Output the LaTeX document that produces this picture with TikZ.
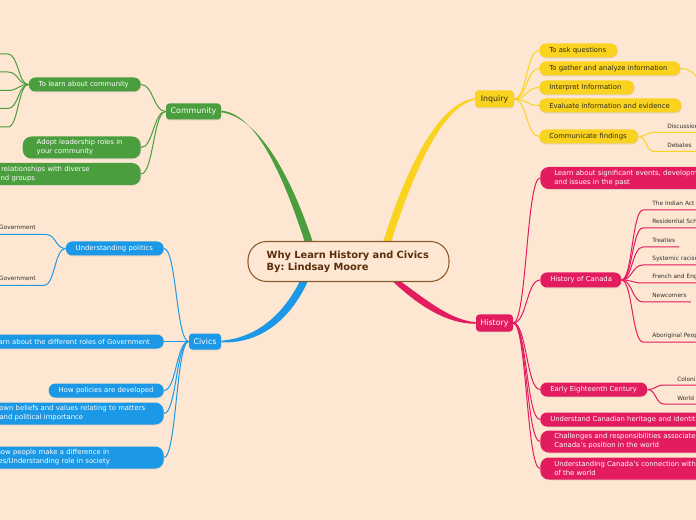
\documentclass[tikz,border=0pt]{standalone}
\usepackage{fontspec}
\setmainfont{DejaVu Sans}
\usetikzlibrary{calc,shadows}
\frenchspacing
\definecolor{bgc}{HTML}{FDE7D2}
\definecolor{cgreen}{HTML}{4A9E3E}
\definecolor{cblue}{HTML}{1B98E6}
\definecolor{cyellow}{HTML}{F9D320}
\definecolor{cpink}{HTML}{E31B5F}
\definecolor{cbrown}{HTML}{8B5A2B}
\definecolor{ctext}{HTML}{5A2E0C}
\definecolor{leaftext}{HTML}{303030}
\definecolor{ydark}{HTML}{2E2A1A}
\pgfdeclarelayer{bglayer}
\pgfdeclarelayer{edgelayer}
\pgfsetlayers{bglayer,edgelayer,main}
\newcommand{\oneln}[1]{\mbox{#1}}
\tikzset{
  shad/.style={drop shadow={shadow xshift=0.3pt,shadow yshift=-0.6pt,opacity=0.22}},
  pillbase/.style={shad,rounded corners=5pt,inner xsep=7.5pt,inner ysep=0pt,minimum height=10.5pt,align=left,font=\fontsize{5.15}{6.75}\selectfont},
  pilltwo/.style={pillbase,rounded corners=6.5pt,inner xsep=10.5pt,minimum height=16.5pt},
  topic/.style={shad,rounded corners=2.5pt,inner sep=0.5pt,font=\fontsize{5.9}{7}\selectfont},
  gfill/.style={fill=cgreen,text=white},
  bfill/.style={fill=cblue,text=white},
  yfill/.style={fill=cyellow,text=ydark},
  pfill/.style={fill=cpink,text=white},
  leaf/.style={inner sep=0pt,font=\fontsize{4.4}{5}\selectfont,text=leaftext,anchor=base west},
  hc/.style={to path={let \p1=(\tikztostart),\p2=(\tikztotarget) in .. controls ({0.5*\x1+0.5*\x2},\y1) and ({0.5*\x1+0.5*\x2},\y2) .. (\tikztotarget)}},
  gl/.style={draw=cgreen,line width=0.75pt},
  bl/.style={draw=cblue,line width=0.75pt},
  yl/.style={draw=cyellow,line width=0.75pt},
  pl/.style={draw=cpink,line width=0.75pt},
}
\begin{document}
\begin{tikzpicture}[x=0.75pt,y=-0.75pt]
\useasboundingbox (0,0) rectangle (696,520);
\begin{pgfonlayer}{bglayer}
\fill[bgc] (0,0) rectangle (696,520);
\end{pgfonlayer}

% central topic
\node[draw=cbrown,line width=0.8pt,fill=bgc,rounded corners=14pt,minimum width=150.75pt,minimum height=30pt,inner xsep=14pt,text width=122.75pt,align=left,font=\bfseries\fontsize{7.4}{9}\selectfont,text=ctext] (root) at (348.5,261.5) {\oneln{Why Learn History and Civics}\\\oneln{By: Lindsay Moore}};

% main topics
\node[topic,gfill,minimum width=41.25pt,minimum height=12pt] (community) at (193.5,111.5) {Community};
\node[topic,yfill,minimum width=29.25pt,minimum height=12.75pt] (inquiry) at (494.5,99) {Inquiry};
\node[topic,bfill,minimum width=24pt,minimum height=12pt] (civics) at (205,341.5) {Civics};
\node[topic,pfill,minimum width=27.75pt,minimum height=12.75pt] (history) at (494.5,323) {History};

% community children
\node[pillbase,gfill,text width=69pt,anchor=east] (cl) at (141,84.5) {\oneln{To learn about community}};
\node[pilltwo,gfill,text width=67.5pt,anchor=east] (ca) at (141,147.5) {\oneln{Adopt leadership roles in}\\\oneln{your community}};
\node[pilltwo,gfill,text width=117pt,anchor=east] (cd) at (141,174) {\oneln{Develop relationships with diverse}\\\oneln{people and groups}};
\coordinate (cc1) at (8,54);  \coordinate (cc1x) at (-30,54);
\coordinate (cc2) at (8,72);  \coordinate (cc2x) at (-30,72);
\coordinate (cc3) at (8,90.5);  \coordinate (cc3x) at (-30,90.5);
\coordinate (cc4) at (8,108.5); \coordinate (cc4x) at (-30,108.5);
\coordinate (cc5) at (8,127); \coordinate (cc5x) at (-30,127);

% civics children
\node[pillbase,bfill,text width=58.5pt,anchor=east] (cp) at (164,248.5) {\oneln{Understanding politics}};
\node[pillbase,bfill,text width=122.25pt,anchor=east] (cr) at (164,341.5) {\oneln{Learn about the different roles of Government}};
\node[pillbase,bfill,text width=71.25pt,anchor=east] (cpo) at (164,390.5) {\oneln{How policies are developed}};
\node[pilltwo,bfill,text width=135.75pt,anchor=east] (cb) at (164,413.5) {\oneln{Develop own beliefs and values relating to matters}\\\oneln{of social and political importance}};
\node[pilltwo,bfill,text width=154.5pt,anchor=east] (cdf) at (164,457.5) {\oneln{Understanding how people make a difference in}\\\oneln{their communities/Understanding role in society}};
\node[leaf,anchor=base east] (pl1) at (36,230) {Levels of Government};
\node[leaf,anchor=base east] (pl2) at (36,281) {Branches of Government};
\coordinate (pl1s) at (46,234.5);
\coordinate (pl2s) at (44,285.5);

% inquiry children
\node[pillbase,yfill,text width=43.5pt,anchor=west] (i1) at (539,50.5) {\oneln{To ask questions}};
\node[pillbase,yfill,text width=90.75pt,anchor=west] (i2) at (539,68.5) {\oneln{To gather and analyze information}};
\node[pillbase,yfill,text width=56.25pt,anchor=west] (i3) at (539,87.5) {\oneln{Interpret Information}};
\node[pillbase,yfill,text width=91.5pt,anchor=west] (i4) at (539,105.5) {\oneln{Evaluate information and evidence}};
\node[pillbase,yfill,text width=59.25pt,anchor=west] (i5) at (539,136.5) {\oneln{Communicate findings}};
\coordinate (gx) at (716,88);
\node[leaf] (dis) at (667,128.5) {Discussions};
\node[leaf] (deb) at (667,147.5) {Debates};
\coordinate (diss) at (654,132.5);
\coordinate (debs) at (654,151.5);

% history children
\node[pilltwo,pfill,text width=150pt,anchor=west] (h1) at (540,178) {\oneln{Learn about significant events, developments}\\\oneln{and issues in the past}};
\node[pillbase,pfill,text width=45.75pt,minimum height=11.25pt,anchor=west] (h2) at (540,280) {\oneln{History of Canada}};
\node[pillbase,pfill,text width=65.25pt,anchor=west] (h3) at (540,389.5) {\oneln{Early Eighteenth Century}};
\node[pillbase,pfill,text width=140pt,anchor=west] (h4) at (540,419.5) {\oneln{Understand Canadian heritage and identity}};
\node[pilltwo,pfill,text width=160pt,anchor=west] (h5) at (540,441.5) {\oneln{Challenges and responsibilities associated with}\\\oneln{Canada's position in the world}};
\node[pilltwo,pfill,text width=160pt,anchor=west] (h6) at (540,468.5) {\oneln{Understanding Canada's connection with the rest}\\\oneln{of the world}};

\node[leaf] (hl1) at (652,205.5) {The Indian Act};
\node[leaf] (hl2) at (652,223.5) {Residential Schools};
\node[leaf] (hl3) at (652,242.5) {Treaties};
\node[leaf] (hl4) at (652,260.5) {Systemic racism};
\node[leaf] (hl5) at (652,278.5) {French and English Relations};
\node[leaf] (hl6) at (652,297.5) {Newcomers};
\node[leaf] (hl7) at (652,337.5) {Aboriginal Peoples};
\coordinate (hl1s) at (643,210);
\coordinate (hl2s) at (643,228);
\coordinate (hl3s) at (643,247);
\coordinate (hl4s) at (643,265);
\coordinate (hl5s) at (643,283);
\coordinate (hl6s) at (643,302);
\coordinate (hl7s) at (643,342);
\node[leaf] (col) at (677,381) {Colonialism};
\node[leaf] (wor) at (677,400) {World Wars};
\coordinate (cols) at (664,385);
\coordinate (wors) at (664,404);

\begin{pgfonlayer}{edgelayer}
% main branches (tapered)
\fill[cgreen] ($(root.north west)+(57,0)$) .. controls (281,169) and (254,113) .. ([yshift=0.6pt]community.east) -- ([yshift=-0.6pt]community.east) .. controls (257,117) and (289,171) .. ($(root.north west)+(65,0)$) -- cycle;
\fill[cyellow] ($(root.north west)+(136,0)$) .. controls (406,169) and (438,103) .. ([yshift=0.6pt]inquiry.west) -- ([yshift=-0.6pt]inquiry.west) .. controls (442,107) and (414,171) .. ($(root.north west)+(144,0)$) -- cycle;
\fill[cblue] ($(root.south west)+(52,0)$) .. controls (281,318) and (254,338) .. ([yshift=0.6pt]civics.east) -- ([yshift=-0.6pt]civics.east) .. controls (258,344) and (289,322) .. ($(root.south west)+(60,0)$) -- cycle;
\fill[cpink] ($(root.south west)+(146,0)$) .. controls (421,308) and (449,324) .. ([yshift=-0.6pt]history.west) -- ([yshift=0.6pt]history.west) .. controls (451,320) and (429,302) .. ($(root.south west)+(154,0)$) -- cycle;

% community
\draw[gl] (community.west) to[hc] (cl.east);
\draw[gl] (community.west) to[hc] (ca.east);
\draw[gl] (community.west) to[hc] (cd.east);
\draw[gl] (cl.west) to[hc] (cc1) -- (cc1x);
\draw[gl] (cl.west) to[hc] (cc2) -- (cc2x);
\draw[gl] (cl.west) to[hc] (cc3) -- (cc3x);
\draw[gl] (cl.west) to[hc] (cc4) -- (cc4x);
\draw[gl] (cl.west) to[hc] (cc5) -- (cc5x);

% civics
\draw[bl] (civics.west) to[hc] (cp.east);
\draw[bl] (civics.west) to[hc] (cr.east);
\draw[bl] (civics.west) to[hc] (cpo.east);
\draw[bl] (civics.west) to[hc] (cb.east);
\draw[bl] (civics.west) to[hc] (cdf.east);
\draw[bl] (cp.west) to[hc] (pl1s) -- ($(pl1s -| pl1.west)+(-4,0)$);
\draw[bl] (cp.west) to[hc] (pl2s) -- ($(pl2s -| pl2.west)+(-4,0)$);

% inquiry
\draw[yl] (inquiry.east) to[hc] (i1.west);
\draw[yl] (inquiry.east) to[hc] (i2.west);
\draw[yl] (inquiry.east) to[hc] (i3.west);
\draw[yl] (inquiry.east) to[hc] (i4.west);
\draw[yl] (inquiry.east) to[hc] (i5.west);
\draw[yl] (i2.east) to[hc] (gx);
\draw[yl] (i5.east) to[hc] (diss) -- ($(diss -| dis.east)+(4,0)$);
\draw[yl] (i5.east) to[hc] (debs) -- ($(debs -| deb.east)+(4,0)$);

% history
\draw[pl] (history.east) to[hc] (h1.west);
\draw[pl] (history.east) to[hc] (h2.west);
\draw[pl] (history.east) to[hc] (h3.west);
\draw[pl] (history.east) to[hc] (h4.west);
\draw[pl] (history.east) to[hc] (h5.west);
\draw[pl] (history.east) to[hc] (h6.west);
\foreach \k in {1,...,7}{
  \draw[pl] (h2.east) to[hc] (hl\k s) -- ($(hl\k s -| hl\k.east)+(4,0)$);
}
\draw[pl] (h3.east) to[hc] (cols) -- ($(cols -| col.east)+(4,0)$);
\draw[pl] (h3.east) to[hc] (wors) -- ($(wors -| wor.east)+(4,0)$);
\end{pgfonlayer}
\end{tikzpicture}
\end{document}
